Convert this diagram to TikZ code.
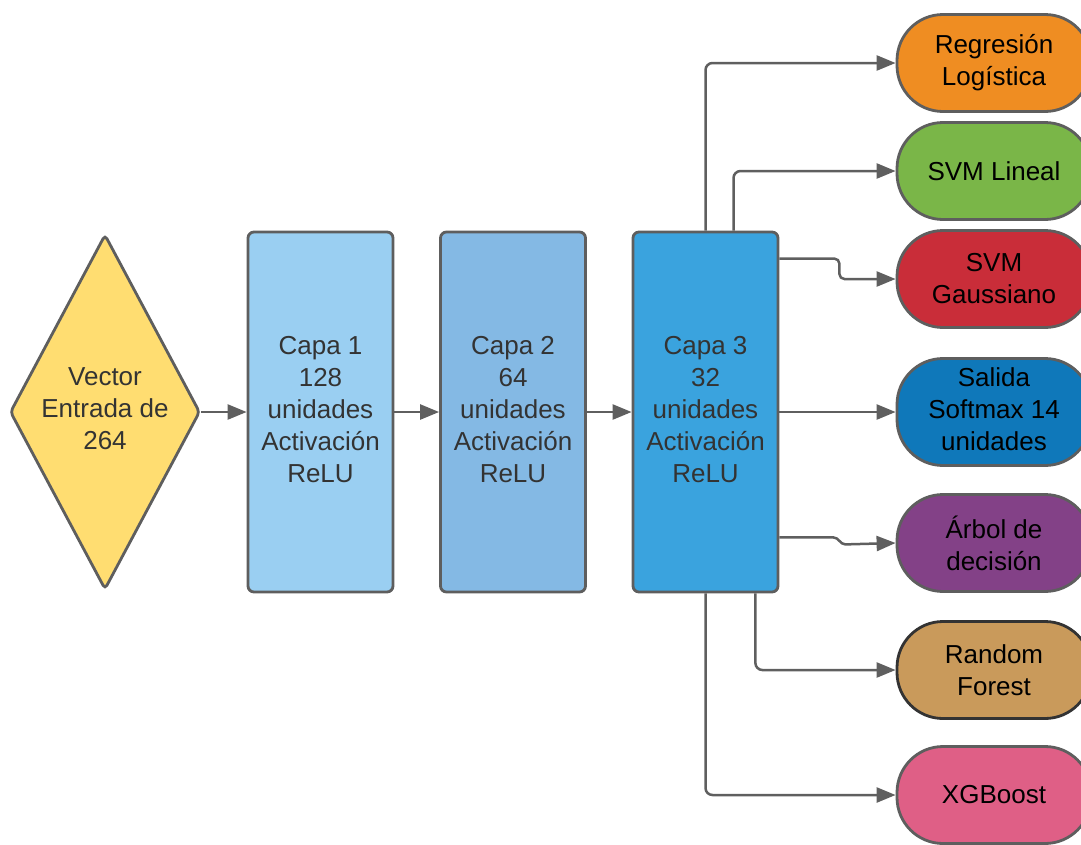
\documentclass[tikz,border=0pt]{standalone}
\usepackage{fontspec}
\setmainfont{Liberation Sans}
\usetikzlibrary{shapes.geometric,arrows.meta}
\definecolor{bordc}{HTML}{5E5E5E}
\definecolor{linec}{HTML}{5F5F5F}
\definecolor{txtgray}{HTML}{333333}
\definecolor{cyellow}{HTML}{FFDD71}
\definecolor{cblue1}{HTML}{9ACFF2}
\definecolor{cblue2}{HTML}{84B9E4}
\definecolor{cblue3}{HTML}{3AA3DE}
\definecolor{corange}{HTML}{EF8D22}
\definecolor{cgreen}{HTML}{7AB648}
\definecolor{cred}{HTML}{C92D39}
\definecolor{cdblue}{HTML}{0F78BA}
\definecolor{cpurple}{HTML}{834187}
\definecolor{ctan}{HTML}{C99A5B}
\definecolor{cpink}{HTML}{DF5F86}
\tikzset{
  txt/.style={align=center, font=\fontsize{26}{32}\selectfont},
  layer/.style={txt, draw=bordc, line width=2.8pt, rounded corners=6pt, minimum width=145pt, minimum height=360pt, inner sep=0pt, text=txtgray, text depth=6pt},
  pill/.style={txt, draw=bordc, line width=2.8pt, rounded corners=46pt, minimum width=194pt, minimum height=97pt, inner sep=0pt, text=black},
  conn/.style={draw=linec, line width=2.5pt, -{Triangle[length=19pt,width=15pt]}, rounded corners=7pt}
}
\begin{document}
\begin{tikzpicture}[x=1pt,y=-1pt]
\useasboundingbox (0,0) rectangle (1081,844);
\node[diamond, txt, draw=bordc, line width=2.8pt, fill=cyellow, text=txtgray, inner sep=0pt, shape aspect=0.535, minimum width=190pt, minimum height=355pt, rounded corners=4pt, text depth=6pt] (vec) at (105,412) {Vector\\Entrada de\\264};
\node[layer, fill=cblue1] (c1) at (320.5,412) {Capa 1\\128\\unidades\\Activación\\ReLU};
\node[layer, fill=cblue2] (c2) at (513,412) {Capa 2\\64\\unidades\\Activación\\ReLU};
\node[layer, fill=cblue3] (c3) at (705.5,412) {Capa 3\\32\\unidades\\Activación\\ReLU};
\node[pill, fill=corange] (reg) at (994,63) {Regresión\\Logística};
\node[pill, fill=cgreen] (svml) at (994,171) {SVM Lineal};
\node[pill, fill=cred] (gau) at (994,279) {SVM\\Gaussiano};
\node[pill, fill=cdblue, minimum height=107pt, text depth=6pt] (sal) at (994,412) {Salida\\Softmax 14\\unidades};
\node[pill, fill=cpurple] (arb) at (994,543) {Árbol de\\decisión};
\node[pill, fill=ctan, draw=txtgray] (rf) at (994,670) {Random\\Forest};
\node[pill, fill=cpink] (xgb) at (994,795) {XGBoost};
\draw[conn] (vec.east) -- (c1.west);
\draw[conn] (c1.east) -- (c2.west);
\draw[conn] (c2.east) -- (c3.west);
\draw[conn] (c3.north) |- (reg.west);
\draw[conn] ([xshift=28pt]c3.north) |- (svml.west);
\draw[conn, rounded corners=5pt] ([yshift=-28pt]c3.north east) -- ++(60,0) |- (gau.west);
\draw[conn] (c3.east) -- (sal.west);
\draw[conn, sharp corners] ([yshift=56pt]c3.south east) -- ++(54,0) to[out=0,in=180] ++(12,7) -- (arb.west);
\draw[conn] ([xshift=-24pt]c3.south east) |- (rf.west);
\draw[conn] (c3.south) |- (xgb.west);
\end{tikzpicture}
\end{document}
